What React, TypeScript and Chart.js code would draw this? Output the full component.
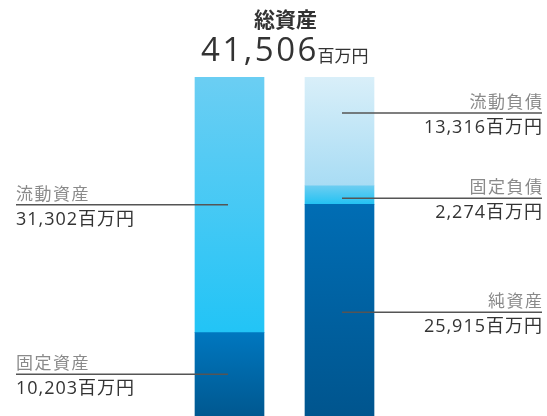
import React, { useEffect, useRef } from "react";
import { Chart, registerables } from "chart.js";

Chart.register(...registerables);

const categories = ["資産", "負債・純資産"];
const assetNames = ["固定資産", "流動資産"];
const assetValues = [10203, 31302];
const liabilityNames = ["純資産", "固定負債", "流動負債"];
const liabilityValues = [25915, 2274, 13316];
const totalLabel = "41,506";
const titleText = "総資産";
const unitText = "百万円";
// label line position within each segment (fraction from bottom)
const assetLabelPos = [0.5, 0.5];
const liabilityLabelPos = [0.49, 0.33, 0.67];

const assetColors = [
  ["#0077bf", "#005890"],
  ["#6bcef3", "#22c4f6"],
];
const liabilityColors = [
  ["#006db4", "#00558e"],
  ["#6ccdf1", "#22c2f3"],
  ["#d9eff9", "#a8dcf4"],
];

const FONT = '"Open Sans", "Noto Sans CJK JP", sans-serif';

function fmt(v: number) {
  return v.toLocaleString("en-US");
}

export default function App() {
  const ref = useRef<HTMLCanvasElement>(null);
  useEffect(() => {
    document.body.style.margin = "0";
    const canvas = ref.current!;
    const datasets: any[] = [];
    const makeGrad = (idx: number, colors: string[][], values: number[]) => (ctx: any) => {
      const chart = ctx.chart;
      const y = chart.scales?.y;
      if (!y || !chart.chartArea) return colors[idx][0];
      let base = 0;
      for (let i = 0; i < idx; i++) base += values[i];
      const top = base + values[idx];
      const y0 = y.getPixelForValue(top);
      const y1 = y.getPixelForValue(base);
      const g = chart.ctx.createLinearGradient(0, y0, 0, y1);
      g.addColorStop(0, colors[idx][0]);
      g.addColorStop(1, colors[idx][1]);
      return g;
    };
    assetValues.forEach((v, i) => {
      datasets.push({
        label: assetNames[i],
        data: [v, null],
        backgroundColor: makeGrad(i, assetColors, assetValues),
        borderWidth: 0,
        side: "left",
        labelPos: assetLabelPos[i],
      });
    });
    liabilityValues.forEach((v, i) => {
      datasets.push({
        label: liabilityNames[i],
        data: [null, v],
        backgroundColor: makeGrad(i, liabilityColors, liabilityValues),
        borderWidth: 0,
        side: "right",
        labelPos: liabilityLabelPos[i],
      });
    });

    const drawSpaced = (c: any, text: string, x: number, y: number, spacing: number, align: "left" | "right") => {
      c.letterSpacing = spacing + "px";
      const w = c.measureText(text).width;
      c.textAlign = "left";
      const sx = align === "left" ? x : x - w + spacing;
      c.fillText(text, sx, y);
      c.letterSpacing = "0px";
    };

    const labelPlugin = {
      id: "labels",
      afterDraw(chart: any) {
        const c = chart.ctx;
        c.save();
        chart.data.datasets.forEach((ds: any, di: number) => {
          const meta = chart.getDatasetMeta(di);
          const idx = ds.side === "left" ? 0 : 1;
          const el = meta.data[idx];
          if (!el) return;
          const ly = el.base + (el.y - el.base) * ds.labelPos;
          const value = ds.data[idx];
          c.lineWidth = 1.5;
          c.strokeStyle = "#555";
          c.beginPath();
          if (ds.side === "left") {
            c.moveTo(16, ly);
            c.lineTo(el.x - 1.5, ly);
          } else {
            c.moveTo(el.x + 2.5, ly);
            c.lineTo(542, ly);
          }
          c.stroke();
          c.textBaseline = "alphabetic";
          const align = ds.side === "left" ? "left" : "right";
          const tx = ds.side === "left" ? 16 : 542;
          c.fillStyle = "#8a8a8a";
          c.font = `17px ${FONT}`;
          drawSpaced(c, ds.label, tx, ly - 5, 1.5, align);
          c.fillStyle = "#333";
          c.font = `18px ${FONT}`;
          drawSpaced(c, fmt(value) + unitText, tx, ly + 20, 1, align);
        });
        // title
        const cx = 285.5;
        c.textAlign = "center";
        c.fillStyle = "#333";
        c.font = `bold 21px ${FONT}`;
        c.fillText(titleText, cx, 27);
        c.font = `33px ${FONT}`;
        c.letterSpacing = "2.5px";
        const w1 = c.measureText(totalLabel).width;
        c.letterSpacing = "0px";
        c.font = `17px ${FONT}`;
        const w2 = c.measureText(unitText).width;
        const start = cx - (w1 + w2) / 2;
        c.textAlign = "left";
        c.font = `33px ${FONT}`;
        c.letterSpacing = "2.5px";
        c.fillText(totalLabel, start, 61);
        c.letterSpacing = "0px";
        c.font = `17px ${FONT}`;
        c.fillText(unitText, start + w1 - 1.5, 62);
        c.restore();
      },
    };

    const chart = new Chart(canvas, {
      type: "bar",
      data: { labels: categories, datasets },
      options: {
        animation: false,
        responsive: false,
        maintainAspectRatio: false,
        layout: { padding: { left: 174.5, right: 152.5, top: 77, bottom: 0 } },
        plugins: { legend: { display: false }, tooltip: { enabled: false }, title: { display: false } },
        datasets: { bar: { barThickness: 69, skipNull: true } as any },
        scales: {
          x: { stacked: true, display: false, grid: { display: false } },
          y: { stacked: true, display: false, min: 0, max: 41506, grid: { display: false } },
        },
      },
      plugins: [labelPlugin],
    });
    return () => chart.destroy();
  }, []);
  return (
    <div style={{ width: 547, height: 416, background: "#fff" }}>
      <canvas ref={ref} width={547} height={416} style={{ display: "block", width: 547, height: 416 }} />
    </div>
  );
}
